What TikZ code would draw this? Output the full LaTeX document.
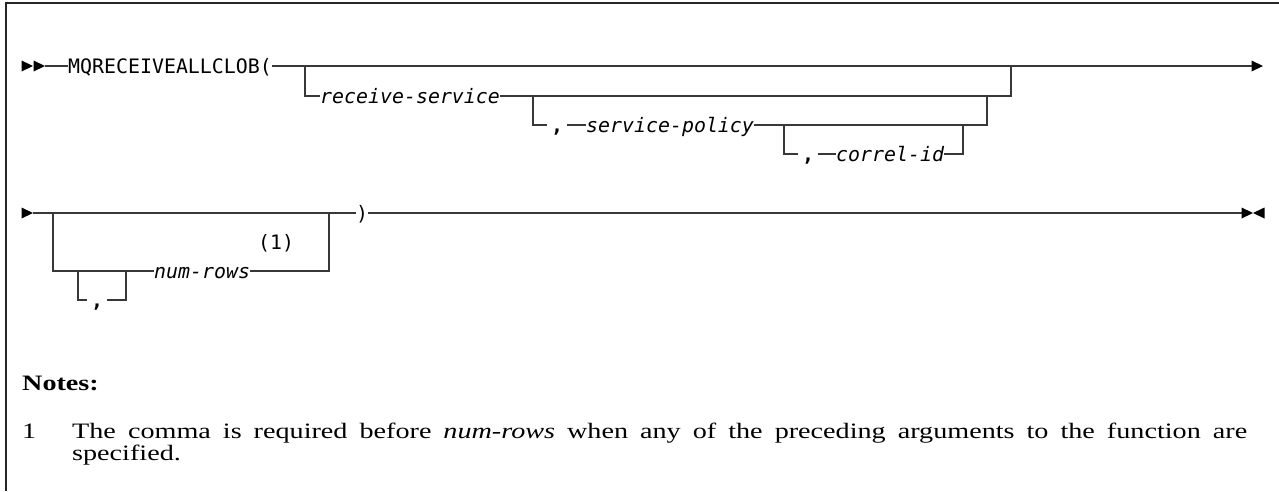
\documentclass[tikz,border=0pt]{standalone}
\usepackage{fontspec}
\setmainfont{Liberation Serif}[FakeStretch=1.28]
\newfontfamily\railfont{DejaVu Sans Mono}
\newcommand{\headtip}[1]{\fill[black] (#1) -- ++(-11.5,-5.5) -- ++(0,11) -- cycle;}
\newcommand{\tailtip}[1]{\fill[black] (#1) -- ++(11.5,-5.5) -- ++(0,11) -- cycle;}

\begin{document}
\begin{tikzpicture}[x=1pt,y=-1pt,
  rail/.style={line width=1.5pt,draw=black!78},
  syn/.style={font=\railfont\fontsize{19.9}{24}\selectfont,inner sep=0pt,anchor=base west,yshift=-7pt},
  var/.style={syn,font=\railfont\fontsize{19.9}{24}\selectfont\itshape},
  punct/.style={syn,inner xsep=4pt,font=\railfont\fontsize{19.9}{24}\selectfont\bfseries},
  notetext/.style={inner sep=0pt,anchor=base west,font=\fontsize{22}{22}\selectfont}]
  \useasboundingbox (0,0) rectangle (1279,491);
  % frame on top and left
  \draw[line width=2pt,black!85] (1279,3) -- (6,3) -- (6,491);
  % ---------- first line ----------
  \headtip{33,66} \headtip{45,66}
  \coordinate (a0) at (45,66);
  \coordinate (a1) at (305,66);
  \coordinate (a2) at (1011,66);
  \coordinate (aend) at (1252,66);
  \node[syn] (mq) at (68,66) {MQRECEIVEALLCLOB(};
  \draw[rail] (a0) -- (mq.west |- a0);
  \draw[rail] (mq.east |- a0) -- (aend);
  \headtip{1263,66}
  % receive-service
  \coordinate (b1) at (305,96);
  \coordinate (b2) at (1011,96);
  \node[var] (rcv) at (320,96) {receive-service};
  \draw[rail] (a1) -- (b1) -- (rcv.west |- b1);
  \draw[rail] (rcv.east |- b1) -- (b2) -- (a2);
  % service-policy
  \coordinate (b3) at (533,96);
  \coordinate (c3) at (533,125);
  \coordinate (b4) at (987,96);
  \coordinate (c4) at (987,125);
  \node[punct] (cm1) at (547,125) {,};
  \node[var] (pol) at (586,125) {service-policy};
  \draw[rail] (b3) -- (c3) -- (cm1.west |- c3);
  \draw[rail] (cm1.east |- c3) -- (pol.west |- c3);
  \draw[rail] (pol.east |- c3) -- (c4) -- (b4);
  % correl-id
  \coordinate (c5) at (784,125);
  \coordinate (d5) at (784,154);
  \coordinate (c6) at (963,125);
  \coordinate (d6) at (963,154);
  \node[punct] (cm2) at (798,154) {,};
  \node[var] (cor) at (836,154) {correl-id};
  \draw[rail] (c5) -- (d5) -- (cm2.west |- d5);
  \draw[rail] (cm2.east |- d5) -- (cor.west |- d5);
  \draw[rail] (cor.east |- d5) -- (d6) -- (c6);
  % ---------- second line ----------
  \headtip{33,213}
  \coordinate (e0) at (33,213);
  \coordinate (e1) at (53,213);
  \coordinate (f1) at (53,271);
  \coordinate (e2) at (329,213);
  \coordinate (f2) at (329,271);
  \coordinate (eend) at (1242,213);
  \node[syn] (rp) at (356,213) {)};
  \draw[rail] (e0) -- (rp.west |- e0);
  \draw[rail] (rp.east |- e0) -- (eend);
  \headtip{1253,213} \tailtip{1253,213}
  % num-rows
  \node[var] (nr) at (154,271) {num-rows};
  \node[syn] (fn) at (258,242) {(1)};
  \draw[rail] (e1) -- (f1) -- (nr.west |- f1);
  \draw[rail] (nr.east |- f1) -- (f2) -- (e2);
  \coordinate (f3) at (78,271);
  \coordinate (g3) at (78,300);
  \coordinate (f4) at (126,271);
  \coordinate (g4) at (126,300);
  \node[punct] (cm3) at (87,300) {,};
  \draw[rail] (f3) -- (g3) -- (cm3.west |- g3);
  \draw[rail] (cm3.east |- g3) -- (g4) -- (f4);
  % ---------- notes ----------
  \node[notetext,font=\bfseries\fontsize{22}{22}\selectfont] (notes) at (22,390) {Notes:};
  \node[notetext] (n1) at (22,438) {1};
  \node[notetext,text width=1175pt,align=justify] (n1txt) at (72,438)
    {The comma is required before \emph{num-rows} when any of the preceding arguments to the function are\linebreak specified.};
\end{tikzpicture}
\end{document}
